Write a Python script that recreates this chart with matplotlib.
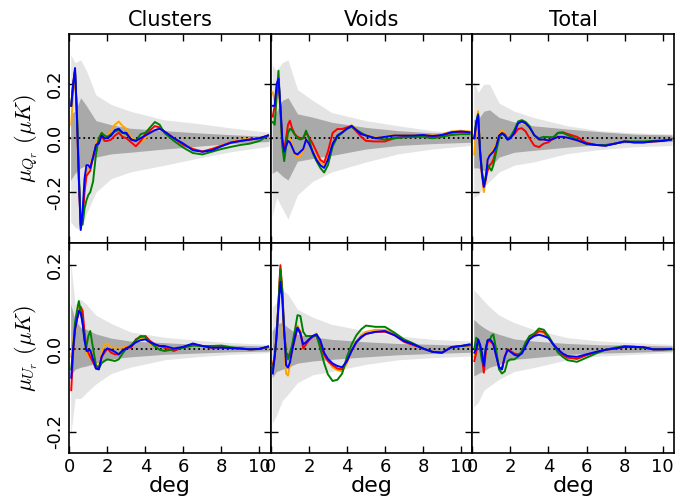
import matplotlib
matplotlib.use("Agg")
import matplotlib.pyplot as plt

plt.rcParams['axes.unicode_minus'] = False
plt.rcParams['font.family'] = ['DejaVu Sans']
plt.rcParams['mathtext.fontset'] = 'cm'

# ---------------- data ----------------
x = [0.1, 0.2, 0.3, 0.4, 0.5, 0.6, 0.7, 0.8, 0.9, 1.0, 1.1, 1.25, 1.4, 1.55, 1.7, 1.85,
     2.0, 2.2, 2.4, 2.6, 2.8, 3.0, 3.25, 3.5, 3.75, 4.0, 4.25, 4.5, 4.75, 5.0, 5.5,
     6.0, 6.5, 7.0, 7.5, 8.0, 8.5, 9.0, 9.5, 10.0, 10.45]
bx = [0.07, 0.3, 0.6, 0.9, 1.4, 2.2, 3.2, 5.0, 6.7, 8.5, 10.5]

titles = ["Clusters", "Voids", "Total"]
ylabels = [r"$\mu_{Q_r}\ (\mu K)$", r"$\mu_{U_r}\ (\mu K)$"]
yticks_top = [-0.2, 0.0, 0.2]
yticks_bot = [-0.2, 0.0, 0.2]
ytick_labels = ["-0.2", "0.0", "0.2"]
xticks = [0, 2, 4, 6, 8, 10]

# Clusters Q_r
cq_orange = [0.05, 0.17, 0.24, 0.08, -0.15, -0.32, -0.28, -0.18, -0.13, -0.11, -0.10, -0.06, -0.02, 0.0, 0.02, 0.0,
             0.01, 0.03, 0.05, 0.062, 0.045, 0.035, 0.005, -0.01, -0.015, 0.0, 0.02, 0.03, 0.035, 0.025, 0.0,
             -0.022, -0.04, -0.048, -0.04, -0.027, -0.015, -0.005, -0.003, 0.0, 0.01]
cq_red = [0.12, 0.2, 0.25, 0.08, -0.15, -0.33, -0.3, -0.2, -0.14, -0.13, -0.12, -0.07, -0.03, -0.01, 0.01, -0.01,
          -0.01, -0.005, 0.01, 0.02, 0.005, 0.0, -0.015, -0.03, -0.01, 0.015, 0.03, 0.045, 0.04, 0.025, 0.0,
          -0.025, -0.04, -0.05, -0.04, -0.028, -0.015, -0.01, -0.005, 0.0, 0.01]
cq_green = [0.12, 0.2, 0.25, 0.1, -0.12, -0.32, -0.32, -0.26, -0.23, -0.21, -0.20, -0.16, -0.06, 0.0, 0.02, 0.01,
            0.005, 0.015, 0.025, 0.03, 0.02, 0.015, -0.005, -0.01, 0.015, 0.02, 0.04, 0.06, 0.05, 0.02, -0.01,
            -0.035, -0.055, -0.06, -0.05, -0.04, -0.032, -0.025, -0.02, -0.01, 0.01]
cq_blue = [0.12, 0.2, 0.26, 0.08, -0.15, -0.34, -0.27, -0.15, -0.10, -0.10, -0.11, -0.07, -0.025, -0.02, 0.01, 0.0,
           0.0, 0.01, 0.03, 0.035, 0.02, 0.02, -0.005, -0.01, 0.0, 0.01, 0.02, 0.03, 0.035, 0.025, 0.0,
           -0.02, -0.045, -0.05, -0.045, -0.03, -0.017, -0.01, -0.005, 0.0, 0.01]
cq_light_hi = [0.31, 0.28, 0.29, 0.25, 0.16, 0.125, 0.10, 0.068, 0.055, 0.038, 0.022]
cq_light_lo = [-0.31, -0.33, -0.34, -0.28, -0.20, -0.15, -0.125, -0.10, -0.075, -0.05, -0.03]
cq_dark_hi = [0.09, 0.10, 0.15, 0.12, 0.065, 0.05, 0.037, 0.028, 0.02, 0.013, 0.007]
cq_dark_lo = [-0.155, -0.13, -0.11, -0.10, -0.07, -0.058, -0.052, -0.04, -0.03, -0.02, -0.012]

# Voids Q_r
vq_orange = [0.17, 0.14, 0.18, 0.2, 0.1, -0.01, -0.05, -0.03, -0.01, 0.0, -0.02, -0.06, -0.073, -0.065, -0.05, -0.005,
             -0.02, -0.045, -0.07, -0.09, -0.1, -0.07, -0.015, 0.012, 0.025, 0.037, 0.048, 0.032, 0.018, 0.012, 0.002,
             0.006, 0.012, 0.012, 0.013, 0.015, 0.01, 0.015, 0.025, 0.028, 0.025]
vq_red = [0.08, 0.12, 0.17, 0.22, 0.12, -0.02, -0.04, 0.0, 0.05, 0.065, 0.04, 0.015, 0.005, 0.0, 0.0, 0.02,
          0.005, -0.02, -0.05, -0.08, -0.09, -0.05, 0.02, 0.034, 0.034, 0.04, 0.045, 0.025, 0.005, -0.01, -0.012,
          -0.012, 0.0, 0.005, 0.008, 0.01, 0.005, 0.01, 0.02, 0.022, 0.02]
vq_green = [0.06, 0.05, 0.15, 0.25, 0.1, -0.03, -0.085, -0.03, 0.02, 0.035, 0.03, 0.015, 0.0, -0.005, 0.0, 0.028,
            0.0, -0.055, -0.085, -0.11, -0.127, -0.1, -0.03, 0.005, 0.02, 0.035, 0.042, 0.03, 0.02, 0.01, 0.0,
            -0.005, 0.0, 0.003, 0.005, 0.005, 0.0, 0.005, 0.012, 0.015, 0.015]
vq_blue = [0.12, 0.12, 0.2, 0.22, 0.12, 0.0, -0.05, -0.03, -0.01, -0.015, -0.03, -0.055, -0.06, -0.05, -0.04, -0.005,
           -0.02, -0.05, -0.08, -0.1, -0.11, -0.08, -0.02, 0.01, 0.022, 0.035, 0.046, 0.03, 0.015, 0.01, 0.0,
           0.005, 0.01, 0.01, 0.01, 0.012, 0.008, 0.012, 0.022, 0.025, 0.022]
vq_light_hi = [0.27, 0.25, 0.28, 0.29, 0.18, 0.14, 0.095, 0.065, 0.046, 0.028, 0.016]
vq_light_lo = [-0.29, -0.22, -0.26, -0.30, -0.21, -0.16, -0.125, -0.088, -0.058, -0.04, -0.027]
vq_dark_hi = [0.08, 0.10, 0.14, 0.15, 0.09, 0.078, 0.059, 0.04, 0.028, 0.02, 0.016]
vq_dark_lo = [-0.13, -0.12, -0.14, -0.155, -0.085, -0.075, -0.064, -0.04, -0.027, -0.02, -0.015]

# Total Q_r
tq_orange = [-0.06, 0.05, 0.1, -0.05, -0.14, -0.2, -0.16, -0.08, -0.06, -0.055, -0.04, -0.02, 0.015, 0.03, 0.02, -0.005,
             0.0, 0.02, 0.052, 0.06, 0.052, 0.038, 0.005, -0.01, -0.01, -0.012, -0.005, 0.008, 0.006, 0.002, -0.01,
             -0.022, -0.025, -0.027, -0.02, -0.012, -0.015, -0.015, -0.012, -0.01, -0.005]
tq_red = [0.0, 0.05, 0.085, -0.05, -0.13, -0.18, -0.15, -0.12, -0.1, -0.094, -0.08, -0.04, 0.0, 0.02, 0.015, -0.002,
          0.005, 0.015, 0.034, 0.037, 0.025, 0.0, -0.027, -0.033, -0.02, -0.015, 0.0, 0.02, 0.022, 0.016, 0.005,
          -0.017, -0.025, -0.027, -0.02, -0.012, -0.015, -0.015, -0.012, -0.01, -0.005]
tq_green = [0.0, 0.06, 0.09, -0.04, -0.12, -0.17, -0.14, -0.1, -0.11, -0.12, -0.1, -0.05, 0.0, 0.018, 0.01, -0.003,
            0.005, 0.03, 0.062, 0.067, 0.06, 0.045, 0.01, 0.0, 0.005, 0.004, 0.004, 0.02, 0.02, 0.012, -0.005,
            -0.022, -0.025, -0.025, -0.02, -0.012, -0.012, -0.012, -0.01, -0.008, -0.005]
tq_blue = [0.0, 0.06, 0.085, -0.05, -0.13, -0.18, -0.15, -0.08, -0.065, -0.057, -0.05, -0.03, 0.01, 0.018, 0.01, -0.006,
           0.0, 0.02, 0.055, 0.062, 0.055, 0.04, 0.012, -0.005, -0.005, -0.008, -0.003, 0.005, 0.005, 0.002, -0.008,
           -0.02, -0.025, -0.028, -0.02, -0.012, -0.016, -0.016, -0.012, -0.01, -0.005]
tq_light_hi = [0.21, 0.17, 0.20, 0.20, 0.13, 0.10, 0.077, 0.046, 0.028, 0.02, 0.016]
tq_light_lo = [-0.22, -0.21, -0.18, -0.16, -0.125, -0.10, -0.088, -0.057, -0.042, -0.032, -0.027]
tq_dark_hi = [0.07, 0.07, 0.10, 0.105, 0.077, 0.06, 0.046, 0.034, 0.024, 0.015, 0.012]
tq_dark_lo = [-0.11, -0.11, -0.12, -0.11, -0.07, -0.052, -0.045, -0.033, -0.024, -0.015, -0.012]

# Clusters U_r
cu_orange = [-0.02, 0.02, 0.04, 0.07, 0.1, 0.09, 0.07, 0.02, -0.01, -0.02, -0.02, -0.01, -0.04, -0.045, -0.01, 0.01,
             0.012, 0.002, 0.002, 0.002, 0.002, 0.005, 0.006, 0.02, 0.026, 0.024, 0.01, 0.006, 0.004, 0.004, -0.002,
             0.004, 0.01, 0.006, 0.002, 0.004, 0.001, 0.0, -0.002, -0.001, 0.004]
cu_red = [-0.1, -0.01, 0.046, 0.07, 0.085, 0.1, 0.09, 0.04, 0.0, -0.01, -0.02, -0.033, -0.048, -0.05, -0.02, -0.01,
          0.0, -0.01, -0.014, -0.014, -0.005, 0.002, 0.002, 0.022, 0.028, 0.03, 0.018, 0.01, 0.006, 0.002, -0.006,
          0.004, 0.01, 0.006, 0.002, 0.004, 0.001, 0.0, -0.002, -0.001, 0.004]
cu_green = [-0.05, 0.0, 0.062, 0.09, 0.114, 0.09, 0.062, 0.02, 0.005, 0.03, 0.042, 0.0, -0.04, -0.048, -0.035, -0.03,
            -0.026, -0.028, -0.03, -0.026, -0.012, 0.0, 0.008, 0.02, 0.03, 0.028, 0.015, 0.005, -0.003, -0.006, -0.002,
            0.002, 0.007, 0.006, 0.006, 0.007, 0.003, 0.0, -0.002, -0.001, 0.004]
cu_blue = [-0.07, 0.0, 0.046, 0.07, 0.09, 0.085, 0.06, 0.02, -0.006, -0.005, -0.004, -0.026, -0.048, -0.05, -0.02, -0.005,
           0.0, -0.003, -0.008, -0.014, -0.005, 0.0, 0.006, 0.015, 0.02, 0.022, 0.015, 0.01, 0.006, 0.006, 0.0,
           0.004, 0.012, 0.006, 0.002, 0.002, 0.001, 0.0, -0.002, -0.001, 0.005]
cu_light_hi = [0.21, 0.106, 0.118, 0.106, 0.08, 0.06, 0.04, 0.027, 0.02, 0.014, 0.01]
cu_light_lo = [-0.21, -0.12, -0.12, -0.106, -0.085, -0.06, -0.045, -0.027, -0.02, -0.014, -0.01]
cu_dark_hi = [0.106, 0.07, 0.05, 0.046, 0.035, 0.025, 0.018, 0.014, 0.01, 0.008, 0.006]
cu_dark_lo = [-0.065, -0.05, -0.045, -0.042, -0.035, -0.025, -0.02, -0.014, -0.011, -0.008, -0.006]

# Voids U_r
vu_orange = [-0.04, -0.02, 0.03, 0.11, 0.19, 0.12, 0.0, -0.06, -0.065, -0.04, -0.01, 0.025, 0.055, 0.04, 0.01, 0.015,
             0.025, 0.03, 0.036, 0.015, -0.015, -0.03, -0.045, -0.052, -0.055, -0.035, -0.005, 0.018, 0.032, 0.04, 0.045,
             0.045, 0.035, 0.018, 0.008, 0.0, -0.008, -0.01, 0.003, 0.006, 0.008]
vu_red = [-0.04, -0.02, 0.03, 0.11, 0.2, 0.14, 0.04, -0.01, -0.015, -0.02, -0.005, 0.02, 0.05, 0.04, 0.0, 0.01,
          0.02, 0.028, 0.03, 0.01, -0.015, -0.03, -0.04, -0.048, -0.05, -0.03, -0.005, 0.015, 0.026, 0.035, 0.04,
          0.04, 0.032, 0.016, 0.008, 0.0, -0.008, -0.01, 0.004, 0.006, 0.008]
vu_green = [-0.05, -0.02, 0.03, 0.11, 0.19, 0.14, 0.04, -0.01, -0.026, -0.01, 0.005, 0.04, 0.08, 0.078, 0.04, 0.03,
            0.03, 0.03, 0.032, 0.0, -0.035, -0.062, -0.078, -0.075, -0.06, -0.02, 0.01, 0.032, 0.046, 0.055, 0.052,
            0.052, 0.038, 0.022, 0.012, 0.0, -0.008, -0.01, 0.003, 0.006, 0.008]
vu_blue = [-0.06, -0.02, 0.03, 0.1, 0.16, 0.12, 0.04, -0.04, -0.046, -0.034, -0.01, 0.025, 0.05, 0.035, 0.01, 0.015,
           0.022, 0.03, 0.034, 0.02, -0.01, -0.025, -0.036, -0.042, -0.045, -0.03, -0.005, 0.016, 0.028, 0.035, 0.04,
           0.042, 0.032, 0.018, 0.01, 0.0, -0.008, -0.01, 0.003, 0.006, 0.01]
vu_light_hi = [0.10, 0.11, 0.14, 0.13, 0.094, 0.075, 0.058, 0.042, 0.03, 0.022, 0.018]
vu_light_lo = [-0.18, -0.16, -0.125, -0.11, -0.082, -0.063, -0.055, -0.038, -0.027, -0.022, -0.018]
vu_dark_hi = [0.042, 0.06, 0.062, 0.05, 0.034, 0.028, 0.022, 0.016, 0.012, 0.01, 0.007]
vu_dark_lo = [-0.07, -0.055, -0.05, -0.045, -0.035, -0.03, -0.026, -0.02, -0.015, -0.012, -0.009]

# Total U_r
tu_orange = [-0.02, 0.0, 0.022, 0.008, -0.02, -0.045, -0.005, 0.018, 0.022, 0.018, 0.01, -0.015, -0.045, -0.05, -0.02, -0.002,
             -0.01, -0.012, -0.015, -0.01, 0.008, 0.024, 0.03, 0.04, 0.037, 0.027, 0.01, -0.004, -0.014, -0.02, -0.024,
             -0.015, -0.008, -0.003, 0.0, 0.004, 0.004, 0.003, -0.002, -0.002, -0.001]
tu_red = [-0.03, -0.01, 0.02, 0.005, -0.02, -0.058, -0.01, 0.015, 0.018, 0.015, 0.01, -0.015, -0.045, -0.05, -0.02, -0.002,
          -0.006, -0.012, -0.014, -0.01, 0.01, 0.025, 0.032, 0.042, 0.04, 0.028, 0.01, -0.005, -0.015, -0.022, -0.025,
          -0.016, -0.009, -0.003, 0.0, 0.004, 0.004, 0.003, -0.002, -0.002, -0.001]
tu_green = [0.0, 0.026, 0.02, 0.0, -0.03, -0.035, 0.0, 0.02, 0.018, 0.03, 0.034, -0.003, -0.05, -0.06, -0.055, -0.03,
            -0.026, -0.026, -0.02, -0.006, 0.015, 0.03, 0.036, 0.048, 0.045, 0.03, 0.01, -0.01, -0.02, -0.028, -0.032,
            -0.022, -0.012, -0.003, 0.002, 0.006, 0.004, 0.002, -0.002, -0.002, -0.002]
tu_blue = [-0.01, 0.0, 0.022, 0.01, -0.01, -0.042, 0.0, 0.02, 0.022, 0.018, 0.01, -0.018, -0.045, -0.05, -0.02, -0.003,
           -0.008, -0.015, -0.018, -0.012, 0.005, 0.022, 0.03, 0.033, 0.03, 0.025, 0.01, -0.002, -0.012, -0.018, -0.02,
           -0.014, -0.008, -0.003, 0.0, 0.004, 0.004, 0.003, -0.002, -0.002, -0.001]
tu_light_hi = [0.14, 0.13, 0.114, 0.10, 0.08, 0.062, 0.046, 0.026, 0.018, 0.014, 0.01]
tu_light_lo = [-0.14, -0.13, -0.10, -0.09, -0.074, -0.055, -0.046, -0.027, -0.018, -0.014, -0.01]
tu_dark_hi = [0.07, 0.06, 0.05, 0.042, 0.034, 0.023, 0.018, 0.012, 0.009, 0.008, 0.006]
tu_dark_lo = [-0.066, -0.06, -0.054, -0.045, -0.038, -0.026, -0.022, -0.014, -0.011, -0.009, -0.006]

panels = [
    [(cq_orange, cq_red, cq_green, cq_blue, cq_light_hi, cq_light_lo, cq_dark_hi, cq_dark_lo),
     (vq_orange, vq_red, vq_green, vq_blue, vq_light_hi, vq_light_lo, vq_dark_hi, vq_dark_lo),
     (tq_orange, tq_red, tq_green, tq_blue, tq_light_hi, tq_light_lo, tq_dark_hi, tq_dark_lo)],
    [(cu_orange, cu_red, cu_green, cu_blue, cu_light_hi, cu_light_lo, cu_dark_hi, cu_dark_lo),
     (vu_orange, vu_red, vu_green, vu_blue, vu_light_hi, vu_light_lo, vu_dark_hi, vu_dark_lo),
     (tu_orange, tu_red, tu_green, tu_blue, tu_light_hi, tu_light_lo, tu_dark_hi, tu_dark_lo)],
]
line_colors = ['#ffa500', '#ff0000', '#008000', '#0000ff']
ylims = [(-0.39, 0.385), (-0.25, 0.252)]

# ---------------- figure ----------------
fig, axes = plt.subplots(2, 3, figsize=(6.75, 4.99), dpi=100, sharex=True)
fig.subplots_adjust(left=0.1027, right=0.9985, top=0.9313, bottom=0.0928, wspace=0, hspace=0)

for r in range(2):
    for c in range(3):
        ax = axes[r, c]
        o, rd, g, b, lh, ll, dh, dl = panels[r][c]
        ax.fill_between(bx, ll, lh, color='#e4e4e4', lw=0, zorder=1)
        ax.fill_between(bx, dl, dh, color='#a9a9a9', lw=0, zorder=2)
        ax.axhline(0, color='black', ls=':', lw=1.3, zorder=3)
        for series, col in zip((o, rd, g, b), line_colors):
            ax.plot(x, series, color=col, lw=1.4, zorder=4)
        ax.set_xlim(0, 10.6)
        ax.set_ylim(*ylims[r])
        ax.set_xticks(xticks)
        ax.set_yticks(yticks_top if r == 0 else yticks_bot)
        ax.tick_params(direction='in', top=True, right=True, length=5, width=1,
                       labelsize=13, pad=4)
        for sp in ax.spines.values():
            sp.set_linewidth(1.2)
        if c == 0:
            ax.set_yticklabels(ytick_labels, rotation=90, va='center')
            ax.set_ylabel(ylabels[r], fontsize=16, labelpad=4)
        else:
            ax.tick_params(labelleft=False)
        if r == 0:
            ax.set_title(titles[c], fontsize=15, pad=6)
            ax.tick_params(labelbottom=False)
        else:
            ax.set_xlabel("deg", fontsize=16, labelpad=0)

fig.savefig("out.png", dpi=100)
